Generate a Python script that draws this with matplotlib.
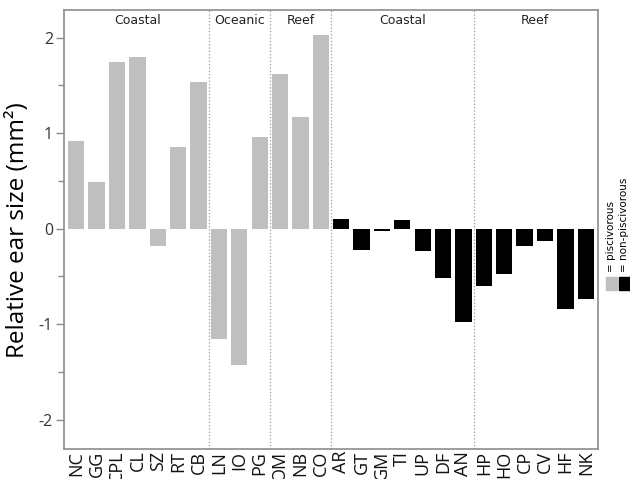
import numpy as np
import matplotlib.pyplot as plt
from matplotlib.patches import Rectangle
from matplotlib.ticker import MultipleLocator

plt.rcParams['axes.unicode_minus'] = False

# species codes, ear size residuals and diet
species = ['NC', 'GG', 'CPL', 'CL', 'SZ', 'RT', 'CB',
           'LN', 'IO', 'PG',
           'OM', 'NB', 'CO',
           'AR', 'GT', 'GM', 'TI', 'UP', 'DF', 'AN',
           'HP', 'HO', 'CP', 'CV', 'HF', 'NK']
ear_size = [0.92, 0.49, 1.75, 1.80, -0.18, 0.855, 1.54,
            -1.155, -1.43, 0.96,
            1.625, 1.17, 2.03,
            0.10, -0.22, -0.02, 0.09, -0.23, -0.52, -0.98,
            -0.60, -0.47, -0.185, -0.13, -0.84, -0.74]
piscivorous = [True] * 13 + [False] * 13

# habitat groups: (name, first index, last index)
habitats = [('Coastal', 0, 6), ('Oceanic', 7, 9), ('Reef', 10, 12),
            ('Coastal', 13, 19), ('Reef', 20, 25)]

grey = '#bfbfbf'
axis_grey = '#8c8c8c'

fig = plt.figure(figsize=(6.3, 4.79), dpi=100)
ax = fig.add_axes([0.1016, 0.062, 0.8476, 0.917])

x = np.arange(len(species))
colors = [grey if p else 'black' for p in piscivorous]
ax.bar(x, ear_size, width=0.8, color=colors, edgecolor='none')

# dotted dividers and habitat names
for name, first, last in habitats:
    if first > 0:
        ax.axvline(first - 0.5, color='#999999', linestyle=':', linewidth=0.9)
    ax.text((first + last) / 2, 2.18, name, ha='center', va='center',
            fontsize=9, color='#222222', family='DejaVu Sans')

ax.set_xlim(-0.6, 25.6)
ax.set_ylim(-2.31, 2.29)
ax.yaxis.set_major_locator(MultipleLocator(1))
ax.yaxis.set_minor_locator(MultipleLocator(0.5))

ax.set_xticks(x)
ax.set_xticklabels(species, rotation=90, fontsize=13, family='Open Sans',
                   va='top', color='#111111')
ax.tick_params(axis='x', length=0, pad=1)
ax.tick_params(axis='y', which='major', length=6, width=1, color=axis_grey,
               labelsize=11.5, pad=2, labelcolor='#333333')
ax.tick_params(axis='y', which='minor', length=4, width=1, color=axis_grey)
for lab in ax.get_yticklabels():
    lab.set_family('Open Sans')

for s in ax.spines.values():
    s.set_color(axis_grey)
    s.set_linewidth(1.2)

ax.set_ylabel('Relative ear size (mm²)', fontsize=17.5,
              family='Open Sans', labelpad=6)

# legend drawn vertically at the right margin
fig.add_artist(Rectangle((606 / 630, 1 - 290 / 479), 11 / 630, 13 / 479,
                         transform=fig.transFigure, color=grey))
fig.add_artist(Rectangle((619 / 630, 1 - 290 / 479), 11 / 630, 13 / 479,
                         transform=fig.transFigure, color='black'))
fig.text(611 / 630, 1 - 272 / 479, '= piscivorous', rotation=90,
         ha='center', va='bottom', fontsize=7.5, family='DejaVu Sans')
fig.text(624 / 630, 1 - 272 / 479, '= non-piscivorous', rotation=90,
         ha='center', va='bottom', fontsize=7.5, family='DejaVu Sans')

fig.savefig('out.png', dpi=100)
